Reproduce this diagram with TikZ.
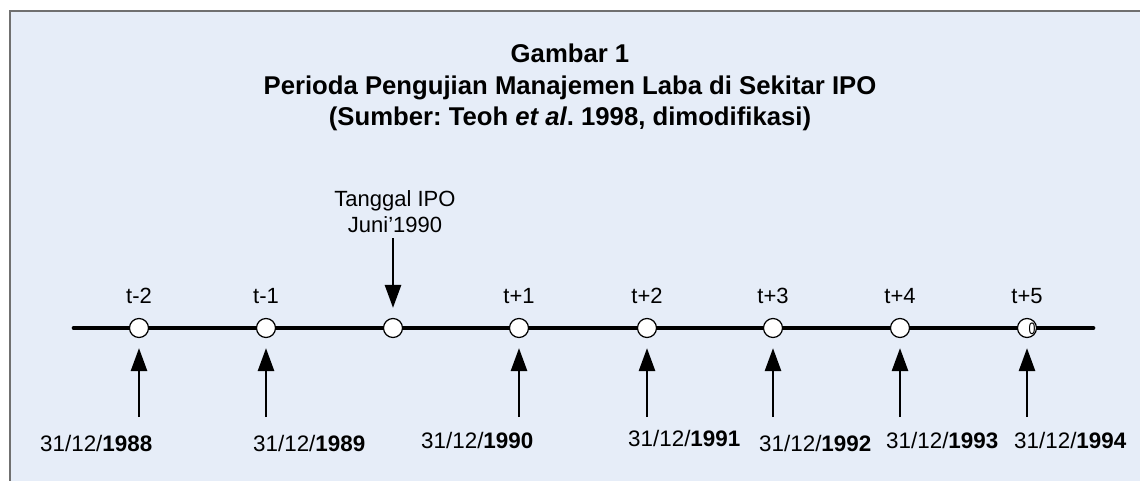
\documentclass[tikz,border=0pt]{standalone}
\usepackage{fontspec}
\setmainfont{Liberation Sans}
\usetikzlibrary{arrows.meta}
\frenchspacing
\definecolor{bgblue}{HTML}{E6EDF8}
\definecolor{framegray}{HTML}{707070}
\tikzset{
  dot/.style={circle, draw=black, fill=white, line width=1.2pt, minimum size=19pt, inner sep=0pt},
  uparr/.style={line width=2.7pt, -{Triangle[length=23pt,width=16pt]}, shorten >=10pt},
  tline/.style={line width=4.7pt, line cap=round},
  lbl/.style={anchor=base, inner sep=0pt, font=\fontsize{22}{26}\selectfont},
  datelbl/.style={anchor=base west, inner sep=0pt, font=\fontsize{22.4}{27}\selectfont},
  ttl/.style={anchor=base, inner sep=0pt, font=\fontsize{25.7}{31}\selectfont\bfseries},
}
\begin{document}
\begin{tikzpicture}[x=1pt,y=-1pt]
\useasboundingbox (0,0) rectangle (1140,481);
\clip (0,0) rectangle (1140,481);
\fill[white] (0,0) rectangle (1140,481);
\draw[fill=bgblue, draw=framegray, line width=2pt] (10,11) rectangle (1160,500);

% title
\node[ttl] (t1) at (570,63) {Gambar 1};
\node[ttl] (t2) at (570,94.5) {Perioda Pengujian Manajemen Laba di Sekitar IPO};
\node[ttl] (t3) at (570,126) {(Sumber: Teoh \textit{et al}. 1998, dimodifikasi)};

% timeline
\coordinate (ls) at (74,328);
\coordinate (le) at (1093,328);
\draw[tline] (ls) -- (le);

% circles
\node[dot] (c1) at (139,328) {};
\node[dot] (c2) at (266,328) {};
\node[dot] (c3) at (393,328) {};
\node[dot] (c4) at (519,328) {};
\node[dot] (c5) at (647,328) {};
\node[dot] (c6) at (773,328) {};
\node[dot] (c7) at (900,328) {};
\node[dot] (c8) at (1027,328) {};
\node[anchor=base, inner sep=0pt, xscale=0.75, font=\fontsize{16.5}{17}\selectfont] (z8) at (1032,334) {0};

% period labels
\node[lbl] (p1) at (139,303) {t-2};
\node[lbl] (p2) at (266,303) {t-1};
\node[lbl] (p4) at (519,303) {t+1};
\node[lbl] (p5) at (647,303) {t+2};
\node[lbl] (p6) at (773,303) {t+3};
\node[lbl] (p7) at (900,303) {t+4};
\node[lbl] (p8) at (1027,303) {t+5};

% IPO label and arrow
\node[lbl] (ipo1) at (395,207) {Tanggal IPO};
\node[lbl] (ipo2) at (395,233) {Juni’1990};
\coordinate (ipotop) at (393,238);
\draw[uparr] (ipotop) -- (c3);

% up arrows
\coordinate (a1) at (139,417);
\coordinate (a2) at (266,417);
\coordinate (a4) at (519,417);
\coordinate (a5) at (647,417);
\coordinate (a6) at (773,417);
\coordinate (a7) at (900,417);
\coordinate (a8) at (1027,417);
\draw[uparr] (a1) -- (c1);
\draw[uparr] (a2) -- (c2);
\draw[uparr] (a4) -- (c4);
\draw[uparr] (a5) -- (c5);
\draw[uparr] (a6) -- (c6);
\draw[uparr] (a7) -- (c7);
\draw[uparr] (a8) -- (c8);

% date labels
\node[datelbl] (d1) at (40,451) {31/12/\textbf{1988}};
\node[datelbl] (d2) at (253,451) {31/12/\textbf{1989}};
\node[datelbl] (d4) at (421,448) {31/12/\textbf{1990}};
\node[datelbl] (d5) at (628,446) {31/12/\textbf{1991}};
\node[datelbl] (d6) at (759,451) {31/12/\textbf{1992}};
\node[datelbl] (d7) at (886,448) {31/12/\textbf{1993}};
\node[datelbl] (d8) at (1014,448) {31/12/\textbf{1994}};
\end{tikzpicture}
\end{document}
